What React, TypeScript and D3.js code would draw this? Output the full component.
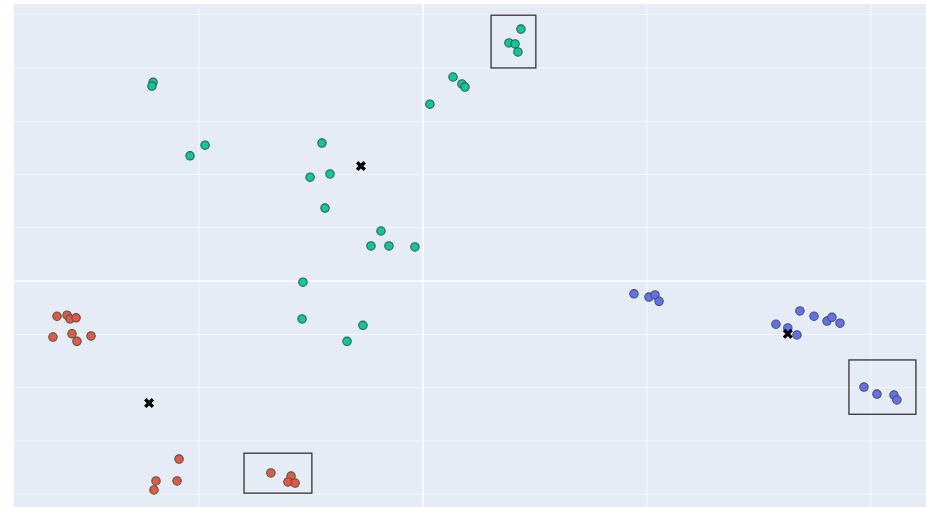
import React, { useEffect, useRef } from "react";
import * as d3 from "d3";

// Clustered points (three groups), their centroids, and outlier boxes

const greenX = [-1.205, -1.21, -0.973, -1.04, -0.451, -0.504, -0.415, -0.4375, -0.1875, -0.232, -0.152, -0.036, -0.536, -0.54, -0.268, -0.339, 0.031, 0.134, 0.174, 0.1875, 0.4375, 0.384, 0.411, 0.424];
const greenY = [3.73, 3.66, 2.55, 2.35, 2.59, 1.95, 2.01, 1.37, 0.94, 0.66, 0.66, 0.64, -0.02, -0.71, -0.83, -1.13, 3.32, 3.83, 3.7, 3.64, 4.73, 4.47, 4.45, 4.3];

const redX = [-1.634, -1.589, -1.576, -1.549, -1.652, -1.567, -1.545, -1.482, -1.089, -1.192, -1.098, -1.201, -0.679, -0.589, -0.603, -0.571];
const redY = [-0.66, -0.64, -0.71, -0.69, -1.05, -0.99, -1.13, -1.03, -3.34, -3.75, -3.75, -3.92, -3.6, -3.66, -3.77, -3.79];

const blueX = [0.942, 1.009, 1.036, 1.054, 1.576, 1.629, 1.67, 1.683, 1.746, 1.804, 1.826, 1.862, 1.969, 2.027, 2.103, 2.116];
const blueY = [-0.24, -0.3, -0.26, -0.38, -0.81, -0.88, -1.01, -0.56, -0.66, -0.75, -0.68, -0.79, -1.99, -2.12, -2.14, -2.23];

const centroidX = [-0.277, -1.223, 1.629];
const centroidY = [2.16, -2.29, -0.99];

// outlier boxes: [x0, x1, y0, y1]
const boxes = [
  [0.304, 0.504, 4.0, 4.99],
  [-0.799, -0.496, -3.98, -3.23],
  [1.902, 2.201, -2.5, -1.48],
];

const xTicks = [-1, 0, 1, 2];
const yTicks = [-4, -3, -2, -1, 0, 1, 2, 3, 4, 5];

const W = 926;
const H = 507;

const App = () => {
  const svgRef = useRef<SVGSVGElement>(null);

  useEffect(() => {
    const svg = d3.select(svgRef.current);
    svg.selectAll("*").remove();

    const x = d3.scaleLinear().domain([-1.826, 2.246]).range([14, 926]);
    const y = d3.scaleLinear().domain([-4.24, 5.2]).range([507, 4]);

    svg.append("rect")
      .attr("x", 14).attr("y", 4)
      .attr("width", W - 14).attr("height", H - 4)
      .attr("fill", "#E5ECF6");

    svg.append("g")
      .selectAll("line")
      .data(xTicks)
      .join("line")
      .attr("x1", d => x(d)).attr("x2", d => x(d))
      .attr("y1", 4).attr("y2", H)
      .attr("stroke", "white")
      .attr("stroke-opacity", d => (d === 0 ? 0.7 : 0.6))
      .attr("stroke-width", d => (d === 0 ? 2 : 1));

    svg.append("g")
      .selectAll("line")
      .data(yTicks)
      .join("line")
      .attr("x1", 14).attr("x2", W)
      .attr("y1", d => y(d)).attr("y2", d => y(d))
      .attr("stroke", "white")
      .attr("stroke-opacity", d => (d === 0 ? 0.7 : 0.6))
      .attr("stroke-width", d => (d === 0 ? 2 : 1));

    const groups = [
      { xs: greenX, ys: greenY, color: "#00CC96" },
      { xs: redX, ys: redY, color: "#EF553B" },
      { xs: blueX, ys: blueY, color: "#636EFA" },
    ];

    groups.forEach(g => {
      svg.append("g")
        .selectAll("circle")
        .data(g.xs.map((v, i) => [v, g.ys[i]]))
        .join("circle")
        .attr("cx", d => x(d[0]))
        .attr("cy", d => y(d[1]))
        .attr("r", 4.2)
        .attr("fill", g.color)
        .attr("stroke", "#3F5656")
        .attr("stroke-width", 1.1);
    });

    const cg = svg.append("g")
      .selectAll("g")
      .data(centroidX.map((v, i) => [v, centroidY[i]]))
      .join("g")
      .attr("transform", d => `translate(${x(d[0])},${y(d[1])})`);
    cg.append("path")
      .attr("d", "M-3.8,-3.8L3.8,3.8M-3.8,3.8L3.8,-3.8")
      .attr("stroke", "black")
      .attr("stroke-width", 3.4)
      .attr("fill", "none");

    svg.append("g")
      .selectAll("rect")
      .data(boxes)
      .join("rect")
      .attr("x", d => x(d[0]))
      .attr("y", d => y(d[3]))
      .attr("width", d => x(d[1]) - x(d[0]))
      .attr("height", d => y(d[2]) - y(d[3]))
      .attr("fill", "none")
      .attr("stroke", "#333")
      .attr("stroke-width", 1.3);
  }, []);

  return (
    <svg
      ref={svgRef}
      width={W}
      height={H}
      style={{ position: "absolute", left: 0, top: 0 }}
    ></svg>
  );
};

export default App;
